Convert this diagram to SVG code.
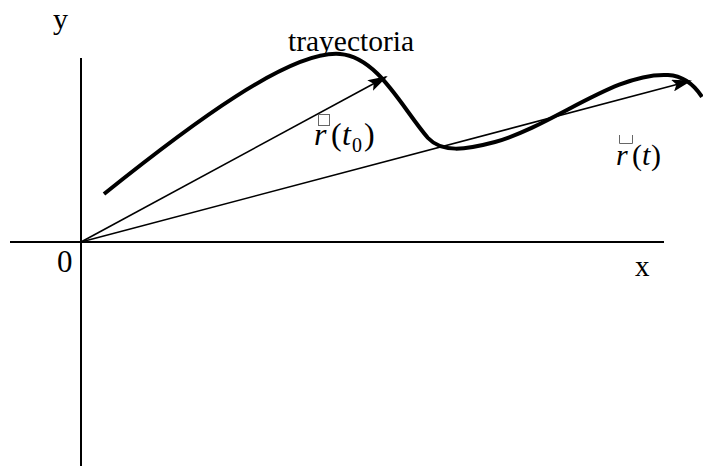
<svg xmlns="http://www.w3.org/2000/svg" width="703" height="471" viewBox="0 0 703 471">
<style>
.t{font-family:'Liberation Serif',serif;fill:#000}
.i{font-style:italic}
.ax{stroke:#000;stroke-width:2;fill:none}
.vec{stroke:#000;stroke-width:1.6;fill:none}
.box{stroke:#666;stroke-width:1;fill:none}
</style>
<defs>
<marker id="ah" markerWidth="20" markerHeight="12" refX="18" refY="6" orient="auto" markerUnits="userSpaceOnUse">
<path d="M0,0 L20,6 L0,12 L4,6 Z" fill="#000"/>
</marker>
</defs>
<rect width="703" height="471" fill="#fff"/>
<g id="axes">
<line class="ax" x1="81" y1="58" x2="81" y2="466"/>
<line class="ax" x1="10" y1="242" x2="664" y2="242"/>
<text class="t" x="53" y="29" font-size="30">y</text>
<text class="t" x="635" y="276" font-size="29">x</text>
<text class="t" x="57" y="272" font-size="31">0</text>
</g>
<g id="trayectoria">
<path d="M104,194 C190,125 290,50 340,54 C378,57 402,108 428,138 C442,153 465,150 495,142 C555,125 615,72 668,75 C685,76 695,86 702,97" stroke="#000" stroke-width="4" fill="none"/>
<text class="t" x="288" y="51" font-size="29.5">trayectoria</text>
</g>
<g id="connectors">
<line class="vec" x1="81" y1="242" x2="386" y2="77" marker-end="url(#ah)"/>
<line class="vec" x1="81" y1="242" x2="690" y2="81" marker-end="url(#ah)"/>
</g>
<g id="label-rt0">
<rect class="box" x="318.5" y="114.5" width="11" height="11"/>
<text class="t" font-size="32" y="145"><tspan class="i" x="314">r</tspan><tspan x="331">(</tspan><tspan class="i" x="342">t</tspan><tspan x="352" y="152" font-size="20">0</tspan><tspan x="364" y="145">)</tspan></text>
</g>
<g id="label-rt">
<path class="box" d="M619.5,135 V143.5 H632.5 V135"/>
<text class="t" font-size="30" y="165"><tspan class="i" x="616">r</tspan><tspan x="632">(</tspan><tspan class="i" x="642">t</tspan><tspan x="651">)</tspan></text>
</g>
</svg>
